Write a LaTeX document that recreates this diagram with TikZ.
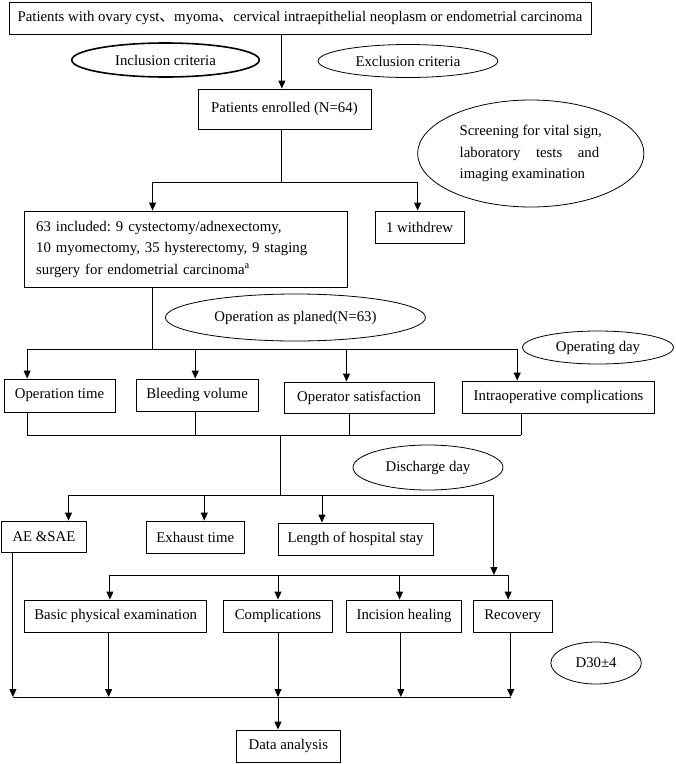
\documentclass[tikz,border=0pt]{standalone}
\usepackage{fontspec}
\setmainfont{Liberation Serif}
\newfontfamily\cjk{Noto Sans CJK SC}
\usetikzlibrary{arrows.meta,shapes.geometric}
\begin{document}
\begin{tikzpicture}[x=1.293pt,y=-1pt,
  font=\fontsize{14.8}{21.5}\selectfont\frenchspacing,
  box/.style={draw, line width=0.9pt, inner sep=0pt},
  oval/.style={draw, ellipse, line width=0.8pt, inner sep=0pt},
  ln/.style={line width=0.9pt},
  arr/.style={line width=0.9pt, -{Triangle[length=8pt,width=7pt]}}]
\useasboundingbox (0,0) rectangle (522.8,764);
% boxes
\node[box, minimum width=582pt, minimum height=32pt] (top) at (232,18)
  {Patients with ovary cyst{\cjk 、}myoma{\cjk 、}cervical intraepithelial neoplasm or endometrial carcinoma};
\node[box, minimum width=173pt, minimum height=40pt] (enrolled) at (220,109) {Patients enrolled (N=64)};
\node[box, minimum width=323pt, minimum height=76pt, text width=300pt, align=left] (incl) at (144,249)
  {63 included: 9 cystectomy/adnexectomy,\\ 10 myomectomy, 35 hysterectomy, 9 staging\\ surgery for endometrial carcinoma\textsuperscript{a}};
\node[box, minimum width=89pt, minimum height=32pt] (withdrew) at (324.5,227) {1 withdrew};
\node[box, minimum width=111pt, minimum height=33pt] (optime) at (46,395.5) {Operation time};
\node[box, minimum width=122pt, minimum height=32pt] (bleed) at (152.4,395) {Bleeding volume};
\node[box, minimum width=150pt, minimum height=31pt] (opsat) at (277.7,397.5) {Operator satisfaction};
\node[box, minimum width=191.4pt, minimum height=32pt] (intra) at (432,397) {Intraoperative complications};
\node[box, minimum width=85.3pt, minimum height=31pt] (ae) at (34,536.5) {AE \&SAE};
\node[box, minimum width=98.3pt, minimum height=32pt] (exhaust) at (151,537) {Exhaust time};
\node[box, minimum width=155pt, minimum height=32pt] (los) at (275,539) {Length of hospital stay};
\node[box, minimum width=182.3pt, minimum height=32pt] (basic) at (89.5,616) {Basic physical examination};
\node[box, minimum width=108.6pt, minimum height=32pt] (compl) at (215,616) {Complications};
\node[box, minimum width=115pt, minimum height=32pt] (incision) at (312.5,616) {Incision healing};
\node[box, minimum width=79pt, minimum height=32pt] (recovery) at (396.5,616) {Recovery};
\node[box, minimum width=103.4pt, minimum height=32pt] (data) at (223,746) {Data analysis};
% ellipses
\node[oval, line width=1.6pt, minimum width=187.5pt, minimum height=34pt] (inc) at (128,60) {Inclusion criteria};
\node[oval, minimum width=179.7pt, minimum height=33pt] (exc) at (315.5,61) {Exclusion criteria};
\node[oval, minimum width=226.3pt, minimum height=107pt, align=left] (screen) at (410.5,153.5)
  {Screening for vital sign,\\ \makebox[139.6pt][s]{laboratory tests and}\\ imaging examination};
\node[oval, minimum width=260pt, minimum height=47pt] (plan) at (228.5,317.5) {Operation as planed(N=63)};
\node[oval, minimum width=151.3pt, minimum height=33pt] (opday) at (462.5,347.5) {Operating day};
\node[oval, minimum width=150pt, minimum height=45pt] (disday) at (331,467.5) {Discharge day};
\node[oval, minimum width=90.5pt, minimum height=42pt] (d30) at (461,663) {D30±4};
% junction coordinates
\coordinate (ja) at (218,0);
\coordinate (j1l) at (118,182); \coordinate (j1r) at (323,182); \coordinate (j1) at (218,182);
\coordinate (j2m) at (118,349);
\coordinate (j2l) at (21,349); \coordinate (j2b) at (151,349); \coordinate (j2c) at (268,349); \coordinate (j2r) at (400,349);
\coordinate (j3l) at (21,435); \coordinate (j3b) at (151,435); \coordinate (j3c) at (270,435); \coordinate (j3r) at (403,435); \coordinate (j3m) at (217,435);
\coordinate (j4l) at (53,495); \coordinate (j4b) at (158,495); \coordinate (j4c) at (249,495); \coordinate (j4r) at (382,495); \coordinate (j4m) at (217,495);
\coordinate (j5l) at (85,575); \coordinate (j5b) at (215,575); \coordinate (j5c) at (309,575); \coordinate (j5r) at (393,575); \coordinate (j5t) at (382,575);
\coordinate (j6l) at (10,697); \coordinate (j6b) at (84,697); \coordinate (j6c) at (215,697); \coordinate (j6d) at (310,697); \coordinate (j6r) at (395,697);
% connectors
\draw[arr] (ja |- top.south) -- (ja |- enrolled.north);
\draw[ln] (j1 |- enrolled.south) -- (j1);
\draw[ln] (j1l) -- (j1r);
\draw[arr] (j1l) -- (j1l |- incl.north);
\draw[arr] (j1r) -- (j1r |- withdrew.north);
\draw[ln] (j1l |- incl.south) -- (j2m);
\draw[ln] (j2l) -- (j2r);
\draw[arr] (j2l) -- (j2l |- optime.north);
\draw[arr] (j2b) -- (j2b |- bleed.north);
\draw[arr] (j2c) -- (j2c |- opsat.north);
\draw[arr] (j2r) -- (j2r |- intra.north);
\draw[ln] (j3l |- optime.south) -- (j3l);
\draw[ln] (j3b |- bleed.south) -- (j3b);
\draw[ln] (j3c |- opsat.south) -- (j3c);
\draw[ln] (j3r |- intra.south) -- (j3r);
\draw[ln] (j3l) -- (j3r);
\draw[ln] (j3m) -- (j4m);
\draw[ln] (j4l) -- (j4r);
\draw[arr] (j4l) -- (j4l |- ae.north);
\draw[arr] (j4b) -- (j4b |- exhaust.north);
\draw[arr] (j4c) -- (j4c |- los.north);
\draw[arr] (j4r) -- (j5t);
\draw[ln] (j5l) -- (j5r);
\draw[arr] (j5l) -- (j5l |- basic.north);
\draw[arr] (j5b) -- (j5b |- compl.north);
\draw[arr] (j5c) -- (j5c |- incision.north);
\draw[arr] (j5r) -- (j5r |- recovery.north);
\draw[arr] (j6l |- ae.south) -- (j6l);
\draw[arr] (j6b |- basic.south) -- (j6b);
\draw[arr] (j6c |- compl.south) -- (j6c);
\draw[arr] (j6d |- incision.south) -- (j6d);
\draw[arr] (j6r |- recovery.south) -- (j6r);
\draw[ln] (j6l) -- (j6r);
\draw[arr] (j6c) -- (j6c |- data.north);
\end{tikzpicture}
\end{document}
